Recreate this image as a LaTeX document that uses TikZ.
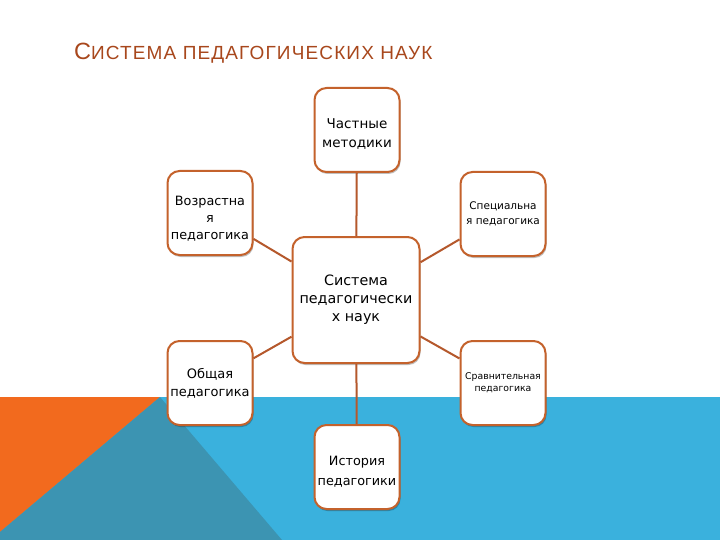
\documentclass[tikz,border=0pt]{standalone}
\usepackage{fontspec}
\setmainfont{Liberation Sans}
\newfontfamily\boxfont{DejaVu Sans}
\newfontfamily\titlefont[LetterSpace=6]{Liberation Sans}
\usetikzlibrary{shadows}
\definecolor{bandblue}{HTML}{3AB1DD}
\definecolor{darkteal}{HTML}{3C94B2}
\definecolor{orng}{HTML}{F26A1E}
\definecolor{brd}{HTML}{C4622C}
\definecolor{lnk}{HTML}{B5582C}
\definecolor{ttl}{HTML}{A8471C}
\newcommand{\upstrut}[1]{\rule{0pt}{#1}}
\tikzset{
  box/.style={draw=brd, line width=2pt, rounded corners=12pt, fill=white,
    minimum width=85pt, minimum height=84pt, align=center, inner sep=1pt,
    drop shadow={shadow xshift=1pt, shadow yshift=-2pt, fill=black, opacity=0.25}},
  link/.style={draw=lnk, line width=2pt}
}
\begin{document}
\begin{tikzpicture}[x=1pt,y=-1pt]
\useasboundingbox (0,0) rectangle (720,540);
\fill[white] (0,0) rectangle (720,540);
% background band
\fill[bandblue] (0,397) rectangle (720,540);
\fill[orng] (0,397) -- (160,397) -- (0,532) -- cycle;
\fill[darkteal] (160,397) -- (282,540) -- (0,540) -- (0,532) -- cycle;
% title
\node[anchor=west, text=ttl, inner sep=0pt] (title) at (74,53)
  {\titlefont\fontsize{23.5}{23}\selectfont С\fontsize{19}{19}\selectfont ИСТЕМА ПЕДАГОГИЧЕСКИХ НАУК};
% nodes
\node[box, minimum width=127pt, minimum height=126pt, font=\boxfont\fontsize{14.3}{18}\selectfont] (c) at (356,300) {Система\\педагогически\\х наук};
\node[box, font=\boxfont\fontsize{13.5}{19}\selectfont] (t) at (357,130) {\upstrut{18pt}Частные\\методики};
\node[box, font=\boxfont\fontsize{12.8}{17}\selectfont] (lt) at (210,213) {\upstrut{20pt}Возрастна\\я\\педагогика};
\node[box, font=\boxfont\fontsize{10.5}{15}\selectfont] (rt) at (503,214) {Специальна\\я педагогика};
\node[box, font=\boxfont\fontsize{13}{18}\selectfont] (lb) at (210,383) {Общая\\педагогика};
\node[box, font=\boxfont\fontsize{9.3}{12}\selectfont] (rb) at (503,383) {Сравнительная\\педагогика};
\node[box, font=\boxfont\fontsize{12.8}{20}\selectfont] (b) at (357,467) {\upstrut{18pt}История\\педагогики};
% links
\draw[link] (c) -- (t);
\draw[link] (c) -- (lt);
\draw[link] (c) -- (rt);
\draw[link] (c) -- (lb);
\draw[link] (c) -- (rb);
\draw[link] (c) -- (b);
\end{tikzpicture}
\end{document}
